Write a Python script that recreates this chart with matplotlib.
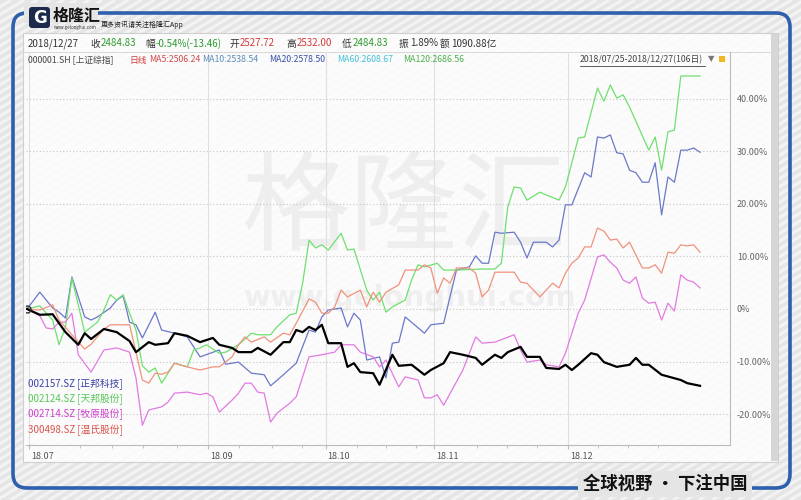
import numpy as np
import matplotlib.pyplot as plt
from matplotlib.patches import FancyBboxPatch, Rectangle
from matplotlib.collections import LineCollection
from matplotlib.ticker import FuncFormatter
import matplotlib.transforms as mtransforms

plt.rcParams['font.family'] = ['Noto Sans CJK SC', 'DejaVu Sans']

# trading-day index (0 = 2018/07/25, 105 = 2018/12/27) and change in %
days_sh = [0,2,4,6,8,9,10,12,14,16,17,19,20,22,23,25,27,29,30,32,33,35,36,38,40,41,42,43,44,45,
           46,47,49,50,51,52,54,55,57,58,60,62,63,65,66,68,70,71,73,74,75,77,78,80,81,83,84,85,86,88,
           89,90,92,94,95,96,97,99,102,103,105]
pct_sh = [0.0,-1.1,-1.0,-4.4,-6.8,-4.6,-5.7,-3.8,-4.4,-6.1,-8.2,-6.3,-6.8,-6.5,-4.6,-5.1,-6.3,-5.5,-6.8,-7.4,
          -8.2,-8.2,-7.4,-8.7,-6.3,-6.3,-4.0,-4.4,-3.4,-4.0,-3.0,-6.5,-6.5,-11.0,-10.3,-12.0,-12.2,-14.4,-8.7,-10.8,
          -10.6,-12.5,-11.6,-10.3,-8.2,-8.7,-9.3,-10.6,-8.7,-9.3,-8.2,-7.2,-9.1,-9.1,-11.2,-11.4,-10.6,-11.6,-10.6,-8.4,
          -8.7,-10.1,-11.0,-10.6,-9.3,-10.6,-10.6,-12.5,-13.5,-14.1,-14.6]

days_zb = [0,2,4,5,6,7,9,10,11,13,14,15,16,17,18,20,21,23,25,27,30,31,33,35,37,38,40,42,44,45,
           46,47,49,50,51,52,53,55,56,57,58,59,62,63,65,67,69,70,71,72,73,74,76,77,78,79,81,82,83,84,
           85,87,88,89,90,91,92,93,94,95,96,97,98,99,100,101,102,103,104,105]
pct_zb = [0.0,3.2,0.2,-0.6,-1.7,6.1,-1.5,-2.1,-1.5,0.2,1.7,2.5,-2.5,-3.0,-5.5,-0.6,-4.0,-4.6,-5.3,-9.1,
          -7.8,-10.5,-10.1,-12.2,-12.5,-14.6,-12.5,-10.3,-4.0,-4.4,-1.5,-0.2,0.2,-3.4,-0.8,-2.1,-9.7,-9.1,-13.1,-6.5,
          -6.3,-1.5,-4.6,-3.0,-2.7,7.4,8.0,10.1,8.7,8.7,14.6,14.4,14.6,12.7,9.7,12.7,12.7,11.8,13.1,19.8,
          19.8,25.9,25.1,32.7,32.5,33.1,29.7,29.5,26.4,25.9,24.1,24.1,27.8,17.9,25.1,24.1,30.2,30.2,30.6,29.8]

days_tb = [0,2,4,5,6,7,9,11,12,13,14,15,16,17,18,19,20,21,23,25,26,27,28,30,31,33,35,36,38,39,
           41,42,43,44,45,46,47,49,50,51,53,54,55,56,57,59,60,61,62,64,65,67,71,73,74,75,76,77,78,80,
           83,84,85,86,87,89,90,91,92,93,94,97,98,99,100,101,102,105]
pct_tb = [0.0,0.6,-2.1,-6.8,-3.4,5.9,-4.4,-2.5,-0.2,2.7,1.7,2.7,-0.8,-4.0,-10.8,-12.0,-11.2,-14.1,-10.3,-11.0,
          -7.8,-7.4,-6.8,-8.4,-8.2,-6.8,-4.6,-4.9,-4.9,-3.4,-1.1,-0.8,4.9,13.1,11.6,12.2,11.2,14.4,11.2,11.4,
          3.6,1.7,3.2,-0.6,0.4,1.7,5.5,8.4,8.0,8.7,7.4,7.4,7.6,7.6,8.7,19.4,23.2,23.0,20.7,22.2,
          20.7,23.2,27.8,32.5,32.7,42.0,39.5,42.6,40.1,40.7,38.4,30.2,32.7,26.4,33.7,34.0,44.3,44.3]

days_my = [0,2,3,4,5,6,7,8,10,12,14,16,17,18,19,21,22,23,25,27,28,29,30,32,33,34,35,36,37,38,
           39,41,42,44,46,48,49,51,52,54,55,56,58,59,61,62,63,64,65,68,70,71,73,76,77,78,80,81,83,84,
           86,87,89,90,91,92,93,94,95,96,97,98,99,100,101,102,103,104,105]
pct_my = [0.0,-1.3,-3.6,-3.8,-2.5,-2.5,-0.8,-8.7,-12.0,-7.8,-7.4,-8.2,-13.1,-22.1,-19.2,-18.6,-17.7,-16.0,-15.8,-16.3,
          -16.0,-16.7,-19.6,-17.3,-16.0,-14.1,-14.1,-15.8,-16.0,-21.5,-19.8,-17.9,-16.7,-9.1,-8.7,-8.2,-6.8,-6.8,-8.2,-9.1,
          -11.0,-9.7,-14.8,-12.9,-13.5,-16.9,-16.9,-16.3,-18.3,-11.6,-5.3,-6.5,-6.3,-4.9,-7.8,-10.1,-9.7,-10.6,-11.0,-8.4,
          -0.8,1.7,9.9,10.3,8.9,7.8,5.5,4.9,6.1,2.1,1.1,1.3,-2.1,1.1,-0.4,6.5,5.5,5.1,4.0]

days_ws = [0,2,4,5,7,9,10,12,13,16,17,18,19,20,21,22,23,25,27,29,30,32,33,34,35,37,38,40,41,42,
           44,45,46,47,48,49,50,52,53,54,55,56,58,59,61,62,63,64,65,66,67,69,70,71,72,73,76,77,78,79,
           80,81,82,83,84,85,86,87,88,89,90,91,92,93,94,96,97,98,99,100,101,102,103,104,105]
pct_ws = [0.0,-0.2,0.8,-2.1,-4.9,-7.6,-6.7,-3.8,-3.0,-3.0,-8.2,-13.5,-14.1,-12.2,-12.4,-12.0,-10.3,-11.0,-11.6,-11.0,
          -11.0,-9.1,-6.8,-5.3,-6.3,-5.3,-6.3,-4.6,-4.9,-2.7,1.9,1.3,-0.8,-0.8,0.4,3.6,2.3,3.6,0.4,3.2,
          1.3,3.2,4.6,7.4,7.4,8.4,7.8,3.0,5.9,4.9,7.8,7.8,6.8,2.3,3.6,7.0,7.0,5.1,4.9,3.6,
          2.3,3.6,4.9,4.0,6.8,8.7,9.7,11.8,11.8,15.4,14.8,13.1,13.3,11.6,12.7,7.8,7.8,8.4,6.8,10.8,
          10.6,12.2,12.0,12.2,10.8]

month_pos = [0.3, 28.2, 46.6, 63.5, 84.4]
month_lab = ['18.07', '18.09', '18.10', '18.11', '18.12']
week_pos = [8.3, 13.2, 18.1, 23.4, 33.0, 38.2, 42.9, 51.5, 56.0, 60.7, 70.2, 74.9, 79.6, 89.1, 93.8, 98.4]
y_ticks = [-20, -10, 0, 10, 20, 30, 40]

legend_lab = ['002157.SZ [正邦科技]', '002124.SZ [天邦股份]', '002714.SZ [牧原股份]', '300498.SZ [温氏股份]']
legend_col = ['#3a42a6', '#55c855', '#cc3fcc', '#d9534a']

W, H = 801, 500
fig = plt.figure(figsize=(W / 100, H / 100), dpi=100, facecolor='#e5e5e5')

# background layer in pixel coordinates
bg = fig.add_axes([0, 0, 1, 1])
bg.set_xlim(0, W)
bg.set_ylim(H, 0)
bg.axis('off')
segs = [[(c, H), (c + H / 0.6, 0)] for c in range(-900, W + 40, 13)]
bg.add_collection(LineCollection(segs, colors='white', linewidths=2.2, alpha=0.55, zorder=0))

bg.add_patch(FancyBboxPatch((13, 13), 777, 475, boxstyle='round,pad=0,rounding_size=14',
                            fc='none', ec='#2e60ad', lw=2.6, zorder=1))
bg.add_patch(Rectangle((24, 3), 74, 20, fc='#e5e5e5', ec='none', zorder=2))

# panel
bg.add_patch(Rectangle((23, 33), 755, 429, fc='white', alpha=0.82, ec='#c8c8c8', lw=0.8, zorder=2))
bg.add_patch(Rectangle((771, 34), 7, 427, fc='#d6d6d6', ec='none', zorder=2))
bg.plot([23, 778], [52, 52], color='#dadada', lw=0.8, zorder=3)

# logo
bg.add_patch(FancyBboxPatch((29, 7), 21, 21, boxstyle='round,pad=0,rounding_size=3',
                            fc='#1c2b4c', ec='none', zorder=3))
bg.text(39.5, 18, 'G', color='white', fontsize=12, fontweight='bold', ha='center', va='center',
        family='DejaVu Sans', zorder=4)
bg.text(53, 15.5, '格隆汇', fontsize=11.5, fontweight='bold', color='#111111', va='center', zorder=4)
bg.text(54, 28, 'www.gelonghui.com', fontsize=3.2, color='#333333', va='center', zorder=4)
bg.text(101, 25, '更多资讯请关注格隆汇App', fontsize=5, color='#222222', va='center', zorder=4)

# watermark
bg.text(405, 212, '格隆汇', fontsize=78, color='#eeeeee', ha='center', va='center', zorder=3)
bg.text(410, 298, 'www.gelonghui.com', fontsize=21, fontweight='bold', color='#efefef',
        ha='center', va='center', family='DejaVu Sans', zorder=3)

# header row 1
dark, up_c, dn_c = '#333333', '#d23c3c', '#2e9b2e'
row1 = [(28, '2018/12/27', dark), (90, '收', dark), (101, '2484.83', dn_c), (145, '幅', dark),
        (156, '-0.54%(-13.46)', dn_c), (229, '开', dark), (240, '2527.72', up_c), (286, '高', dark),
        (297, '2532.00', up_c), (342, '低', dark), (353, '2484.83', dn_c), (399, '振', dark),
        (410, '1.89%', dark), (440, '额', dark), (451, '1090.88亿', dark)]
for x, s, c in row1:
    bg.text(x, 43.5, s, fontsize=7, color=c, va='center', zorder=4)

bg.text(665, 484, '全球视野 · 下注中国', fontsize=12.5, fontweight='bold', color='#111111',
        ha='center', va='center', zorder=4,
        bbox=dict(boxstyle='square,pad=0.25', fc='#e5e5e5', ec='none'))

# main chart
ax = fig.add_axes([26 / W, 1 - 445 / H, (730 - 26) / W, (445 - 52) / H])
ax.set_facecolor('none')
ax.plot(days_zb, pct_zb, color='#6b78c9', lw=0.9, zorder=3)
ax.plot(days_tb, pct_tb, color='#6fe06f', lw=0.9, zorder=3)
ax.plot(days_my, pct_my, color='#e27ae2', lw=0.9, zorder=3)
ax.plot(days_ws, pct_ws, color='#f0927c', lw=0.9, zorder=3)
ax.plot(days_sh, pct_sh, color='black', lw=1.6, zorder=4,
        marker='o', markevery=[0], ms=5, mfc='none', mec='#333333', mew=1)

ax.set_xlim((26 - 27) / 6.41, (730 - 27) / 6.41)
ax.set_ylim((309 - 445) / 5.26, (309 - 52) / 5.26)

ax.set_yticks(y_ticks)
ax.yaxis.set_major_formatter(FuncFormatter(lambda v, p: '0%' if v == 0 else '%.2f%%' % v))
ax.yaxis.tick_right()
ax.tick_params(axis='y', length=0, pad=5, labelsize=6.5, labelcolor='#666666')
ax.grid(axis='y', ls=(0, (1, 2)), color='#c4c4c4', lw=0.8)

ax.set_xticks(month_pos)
ax.set_xticklabels(month_lab)
ax.set_xticks(week_pos, minor=True)
ax.tick_params(axis='x', which='major', length=3, color='#bbbbbb', pad=2, labelsize=6.5,
               labelcolor='#555555')
ax.tick_params(axis='x', which='minor', length=2.5, color='#bbbbbb')
offset = mtransforms.ScaledTranslation(2 / 100, 0, fig.dpi_scale_trans)
for lab in ax.get_xticklabels():
    lab.set_horizontalalignment('left')
    lab.set_transform(lab.get_transform() + offset)
ax.grid(axis='x', which='major', color='#e0e0e0', lw=0.8, ls='-')

for side in ['left', 'top']:
    ax.spines[side].set_visible(False)
for side in ['right', 'bottom']:
    ax.spines[side].set_color('#bbbbbb')
    ax.spines[side].set_linewidth(0.8)

# texts lying over the chart area go on a top layer
top = fig.add_axes([0, 0, 1, 1])
top.set_xlim(0, W)
top.set_ylim(H, 0)
top.axis('off')
top.patch.set_visible(False)

row2 = [(28, '000001.SH [上证综指]', '#444444'), (129, '日线', '#d23c3c'), (149, 'MA5:2506.24', '#d04a4a'),
        (202, 'MA10:2538.54', '#5b8db8'), (269, 'MA20:2578.50', '#3550aa'),
        (337, 'MA60:2608.67', '#45c0d6'), (403, 'MA120:2686.56', '#4cb04c')]
for x, s, c in row2:
    top.text(x, 60, s, fontsize=6.3, color=c, va='center')
top.text(580, 60, '2018/07/25-2018/12/27(106日)', fontsize=6.3, color='#444444', va='center')
top.plot([580, 705], [65.5, 65.5], color='#444444', lw=0.6)
top.text(708, 59, '▼', fontsize=6, color='#777777', va='center', family='DejaVu Sans')
top.add_patch(Rectangle((719, 56), 6, 6, fc='#f0b820', ec='none'))

for i, (s, c) in enumerate(zip(legend_lab, legend_col)):
    top.text(28, 384 + i * 15.3, s, fontsize=7, color=c, va='center')

fig.savefig('out.png', dpi=100, facecolor=fig.get_facecolor())
